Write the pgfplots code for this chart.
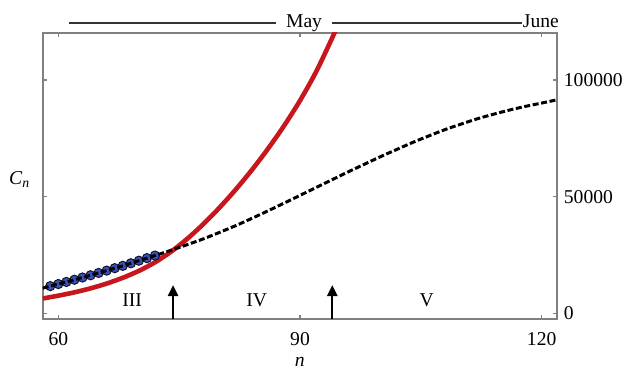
\documentclass[border=0pt]{standalone}
\usepackage{fontspec}
\setmainfont{Liberation Serif}
\usepackage{pgfplots}
\pgfplotsset{compat=1.18}
\usetikzlibrary{arrows.meta}
\definecolor{redc}{RGB}{200,22,30}
\definecolor{bluec}{RGB}{60,80,185}
\definecolor{axgray}{RGB}{128,128,128}
\begin{document}
\fontsize{9.8bp}{11.8bp}\selectfont
\begin{tikzpicture}
\begin{axis}[
  scale only axis, width=257.15bp, height=143.15bp,
  xmin=58.06, xmax=121.9, ymin=-2444, ymax=120320,
  axis line style={axgray, line width=1bp},
  xtick={60,90,120}, ytick={0,50000,100000},
  tick align=inside, major tick length=2bp,
  tick style={axgray, line width=0.6bp},
  xtick pos=both, xticklabel pos=lower,
  ytick pos=both, yticklabel pos=right,
  scaled y ticks=false,
  /pgf/number format/fixed,
  /pgf/number format/assume math mode=true,
  /pgf/number format/set thousands separator={},
  ticklabel style={font=\fontsize{9.8bp}{11.8bp}\selectfont},
  xticklabel style={yshift=-3.3bp},
  xlabel={\textit{n}},
  xlabel style={at={(rel axis cs:0.5,0)}, anchor=center, yshift=-21.5bp},
  clip mode=individual,
]
\coordinate (BL) at (rel axis cs:0,0);
\coordinate (TR) at (rel axis cs:1,1);
% red fit
\addplot[redc, line width=2.3bp, smooth] table {
58.06 6346
60 7560
62 8983
64 10694
66 12748
68 15227
70 18194
72 21865
74 26448
76 31946
78 38258
80 45290
82 52995
84 61361
86 70443
88 80318
90 91206
92 103575
94 118120
94.6 122937
};
% blue data points
\addplot[only marks, mark=*, mark size=2.3bp, mark options={fill=bluec, draw=black!75!bluec, line width=0.5bp}] table {
58 10800
59 11650
60 12550
61 13450
62 14400
63 15350
64 16300
65 17300
66 18300
67 19350
68 20350
69 21450
70 22550
71 23650
72 24750
};
% dashed black model
\addplot[black, line width=1.5bp, dash pattern=on 3bp off 1.3bp, smooth] table {
58.06 10780
59 11650
60 12550
61 13450
62 14400
63 15350
64 16300
65 17300
66 18300
67 19350
68 20350
69 21450
70 22550
71 23650
72 24750
74 27032
76 29433
78 31920
80 34681
82 37559
84 40667
86 43892
88 47207
90 50564
92 53947
94 57305
96 60671
98 63926
100 67172
102 70242
104 73278
106 76078
108 78771
110 81150
112 83393
114 85348
116 87145
118 88736
120 90151
121.9 91546
};
% arrows
\draw[black, line width=1.1bp, -{Triangle[width=5bp,length=5.5bp]}] (axis cs:74.24,-2444) -- (axis cs:74.24,12130);
\draw[black, line width=1.1bp, -{Triangle[width=5bp,length=5.5bp]}] (axis cs:94.01,-2444) -- (axis cs:94.01,12130);
% region labels
\node at (axis cs:69.15,5500) {III};
\node at (axis cs:84.63,5500) {IV};
\node at (axis cs:105.73,5500) {V};
% month annotations
\draw[black!80, line width=1bp] ([yshift=4.7bp]axis cs:61.3,120320) -- ([yshift=4.7bp]axis cs:87.0,120320);
\draw[black!80, line width=1bp] ([yshift=4.7bp]axis cs:94.0,120320) -- ([yshift=4.7bp]axis cs:117.6,120320);
\node[anchor=base, inner sep=0pt] at ([yshift=2.6bp]axis cs:90.5,120320) {May};
\node[anchor=base, inner sep=0pt] at ([yshift=2.6bp]axis cs:119.9,120320) {June};
% y label
\node at ([xshift=-11.5bp,yshift=-1.5bp]rel axis cs:0,0.496) {\textit{C}\textsubscript{\textit{n}}};
\end{axis}
\pgfresetboundingbox
\path ([shift={(-21.35bp,-24.5bp)}]BL) rectangle ([shift={(33.5bp,16.35bp)}]TR);
\end{tikzpicture}
\end{document}
